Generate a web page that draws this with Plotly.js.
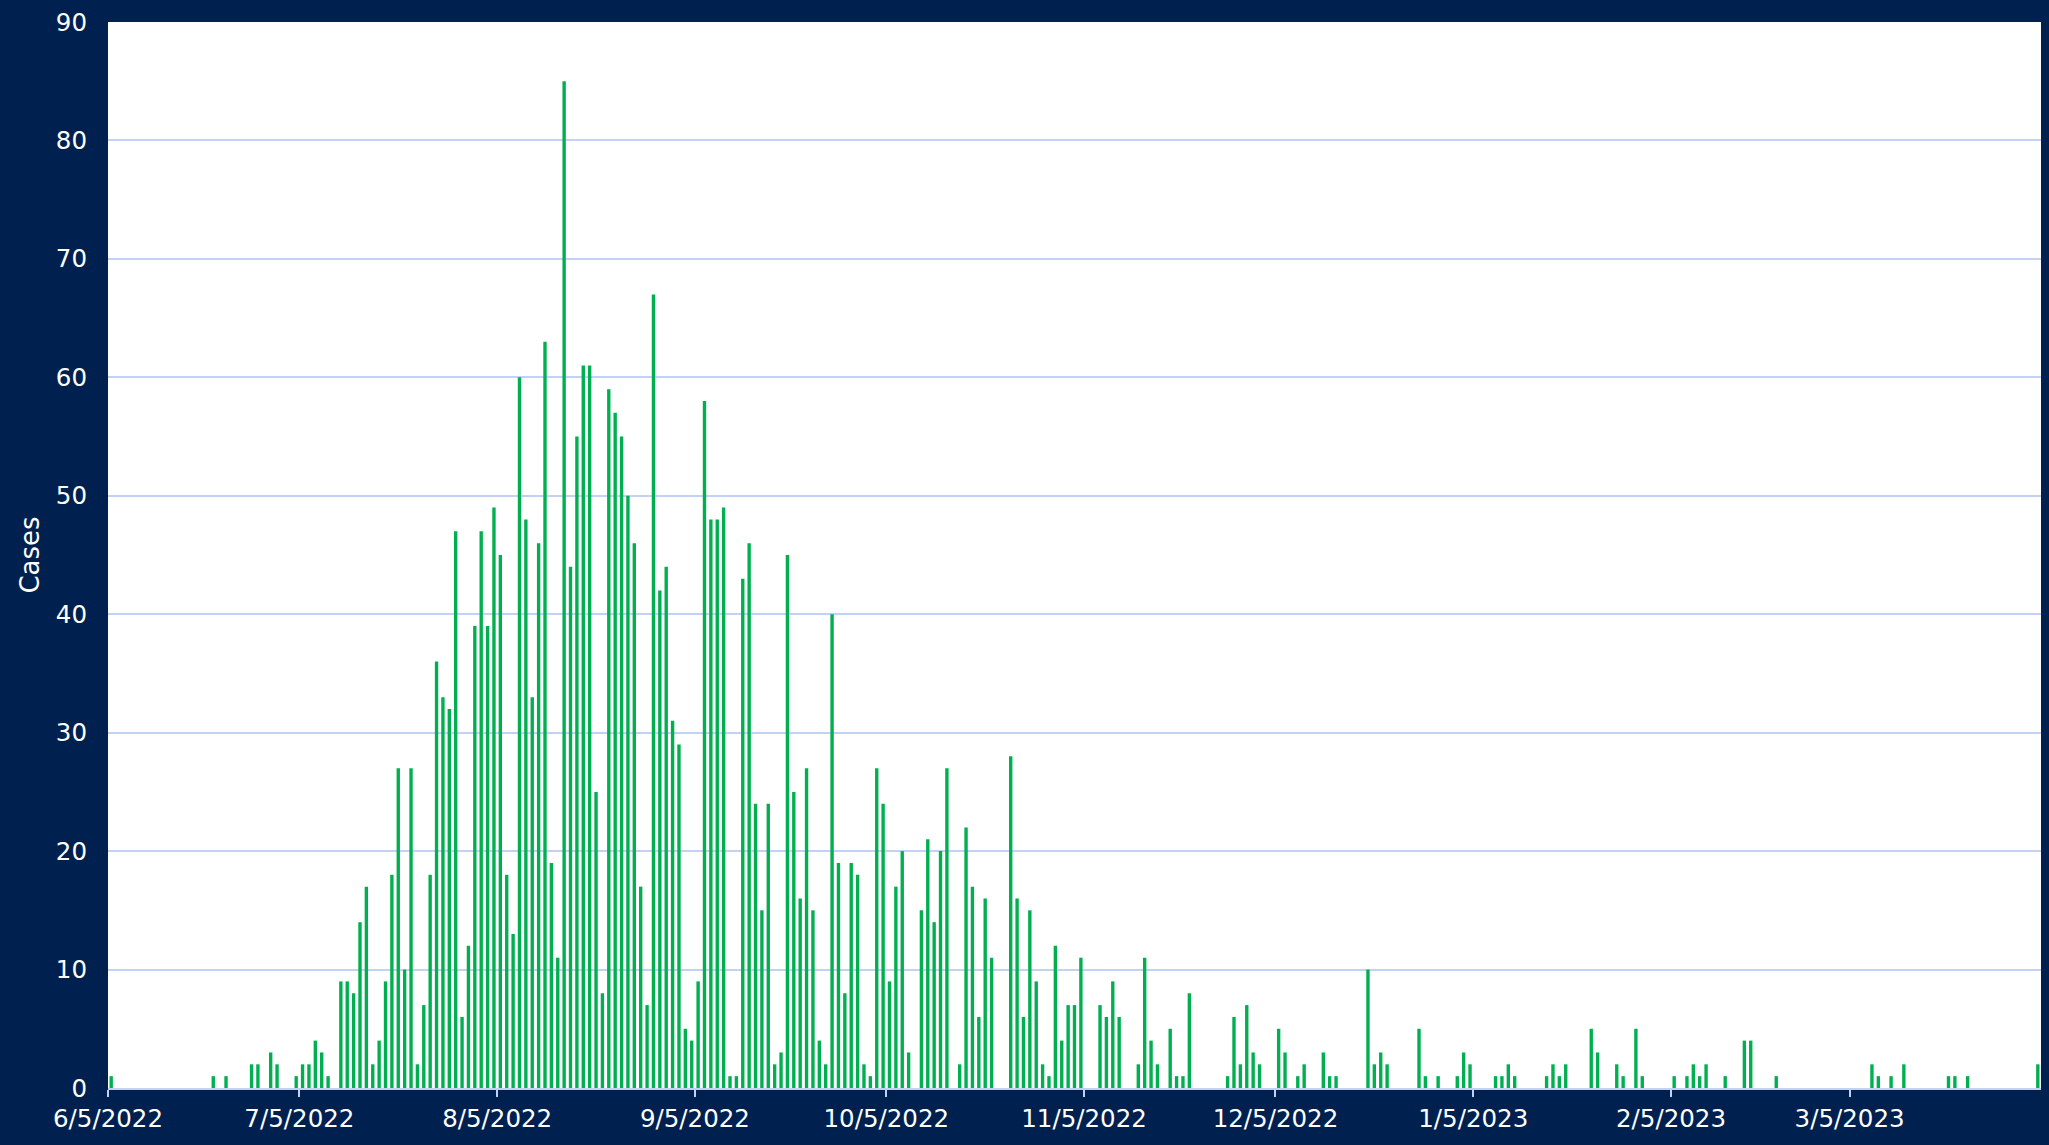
<!DOCTYPE html>
<html>
<head>
<meta charset="utf-8">
<script src="https://cdn.plot.ly/plotly-3.0.1.min.js"></script>
<style>
  html, body { margin: 0; padding: 0; background: #00214F; }
  #chart { width: 2049px; height: 1145px; }
</style>
</head>
<body>
<div id="chart"></div>
<script>
// Daily case counts, one array per month (first day of each array listed in monthStarts)
const monthStarts = ['2022-06-05','2022-07-01','2022-08-01','2022-09-01','2022-10-01','2022-11-01','2022-12-01','2023-01-01','2023-02-01','2023-03-01','2023-04-01'];
const jun2022 = [1,0,0,0,0,0,0,0,0,0,0,0,0,0,0,0,1,0,1,0,0,0,2,2,0,3];
const jul2022 = [2,0,0,1,2,2,4,3,1,0,9,9,8,14,17,2,4,9,18,27,10,27,2,7,18,36,33,32,47,6,12];
const aug2022 = [39,47,39,49,45,18,13,60,48,33,46,63,19,11,85,44,55,61,61,25,8,59,57,55,50,46,17,7,67,42,44];
const sep2022 = [31,29,5,4,9,58,48,48,49,1,1,43,46,24,15,24,2,3,45,25,16,27,15,4,2,40,19,8,19,18];
const oct2022 = [2,1,27,24,9,17,20,3,0,15,21,14,20,27,0,2,22,17,6,16,11,0,0,28,16,6,15,9,2,1,12];
const nov2022 = [4,7,7,11,0,0,7,6,9,6,0,0,2,11,4,2,0,5,1,1,8,0,0,0,0,0,1,6,2,7];
const dec2022 = [3,2,0,0,5,3,0,1,2,0,0,3,1,1,0,0,0,0,10,2,3,2,0,0,0,0,5,1,0,1,0];
const jan2023 = [0,1,3,2,0,0,0,1,1,2,1,0,0,0,0,1,2,1,2,0,0,0,5,3,0,0,2,1,0,5,1];
const feb2023 = [0,0,0,0,1,0,1,2,1,2,0,0,1,0,0,4,4,0,0,0,1,0,0,0,0,0,0,0];
const mar2023 = [0,0,0,0,0,0,0,2,1,0,1,0,2,0,0,0,0,0,0,1,1,0,1,0,0,0,0,0,0,0,0];
const apr2023 = [0,0,2];
const monthValues = [jun2022, jul2022, aug2022, sep2022, oct2022, nov2022, dec2022, jan2023, feb2023, mar2023, apr2023];

const tickDates = ['2022-06-05','2022-07-05','2022-08-05','2022-09-05','2022-10-05','2022-11-05','2022-12-05','2023-01-05','2023-02-05','2023-03-05'];
const tickLabels = ['6/5/2022','7/5/2022','8/5/2022','9/5/2022','10/5/2022','11/5/2022','12/5/2022','1/5/2023','2/5/2023','3/5/2023'];
const yTitle = 'Cases';

// Build daily date list (bars sit in the middle of each day)
function pad(n) { return (n < 10 ? '0' : '') + n; }
const dates = [];
const cases = [];
monthStarts.forEach((start, i) => {
  const [y, m, d] = start.split('-').map(Number);
  monthValues[i].forEach((v, k) => {
    const dt = new Date(Date.UTC(y, m - 1, d + k));
    dates.push(dt.getUTCFullYear() + '-' + pad(dt.getUTCMonth() + 1) + '-' + pad(dt.getUTCDate()) + ' 12:00');
    cases.push(v);
  });
});
const lastDay = new Date(Date.UTC(2023, 3, 3 + 1));
const rangeEnd = lastDay.getUTCFullYear() + '-' + pad(lastDay.getUTCMonth() + 1) + '-' + pad(lastDay.getUTCDate());

const font = "'DejaVu Sans', Verdana, sans-serif";
const trace = {
  type: 'bar',
  x: dates,
  y: cases,
  width: 0.53 * 86400000,
  marker: { color: '#00B050', line: { width: 0 } },
  hoverinfo: 'x+y'
};

const layout = {
  width: 2049,
  height: 1145,
  paper_bgcolor: '#00214F',
  plot_bgcolor: '#FFFFFF',
  margin: { l: 108, r: 8, t: 22, b: 57, pad: 0 },
  showlegend: false,
  font: { family: font, color: '#FFFFFF', size: 24.5 },
  xaxis: {
    type: 'date',
    range: ['2022-06-05', rangeEnd],
    tickmode: 'array',
    tickvals: tickDates,
    ticktext: tickLabels,
    showgrid: false,
    zeroline: false,
    showline: true,
    linecolor: '#C2D2F5',
    linewidth: 2,
    ticks: 'outside',
    ticklen: 7,
    tickwidth: 2,
    tickcolor: '#C2D2F5',
    ticklabelstandoff: 1,
    tickfont: { family: font, size: 24.5, color: '#FFFFFF' }
  },
  yaxis: {
    range: [0, 90],
    tickmode: 'linear',
    tick0: 0,
    dtick: 10,
    showgrid: true,
    gridcolor: '#C2D2F5',
    gridwidth: 2,
    zeroline: false,
    showline: false,
    ticks: '',
    ticklabelstandoff: 20,
    tickfont: { family: font, size: 24.5, color: '#FFFFFF' },
    title: { text: yTitle, font: { family: font, size: 26, color: '#FFFFFF' }, standoff: 8 }
  }
};

Plotly.newPlot('chart', [trace], layout, { displayModeBar: false, staticPlot: true });
</script>
</body>
</html>
